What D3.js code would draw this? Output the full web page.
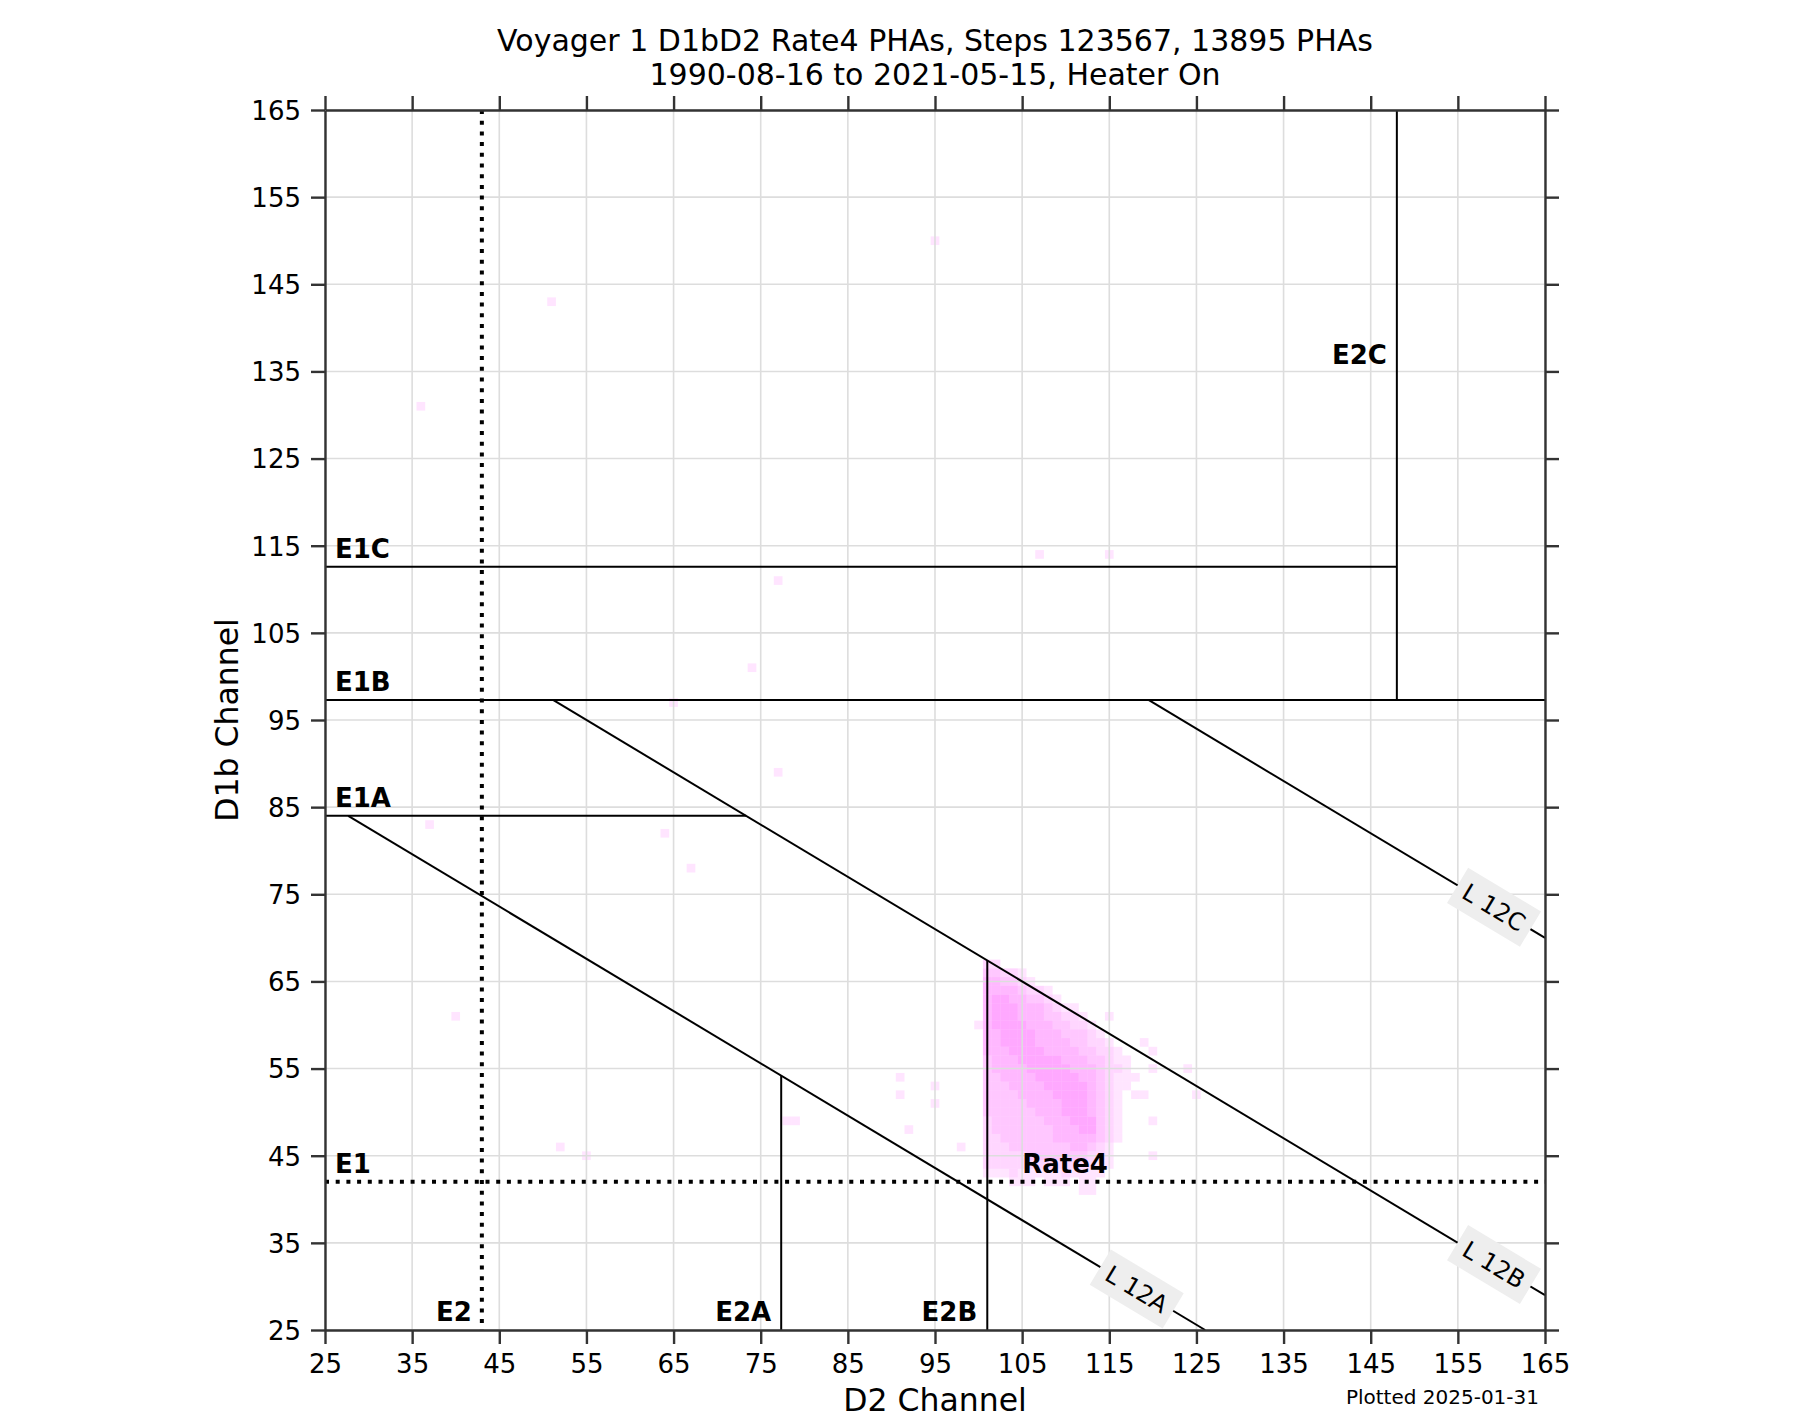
<!DOCTYPE html>
<html>
<head>
<meta charset="utf-8">
<script src="https://cdn.jsdelivr.net/npm/d3@7"></script>
<style>
  html, body { margin: 0; padding: 0; background: #ffffff; }
  svg { display: block; font-family: "DejaVu Sans", sans-serif; }
</style>
</head>
<body>
<svg id="chart" width="1820" height="1424"></svg>
<script>
// ---------------- data ----------------
const titleLines = ["Voyager 1 D1bD2 Rate4 PHAs, Steps 123567, 13895 PHAs",
                    "1990-08-16 to 2021-05-15, Heater On"];
const xLabel = "D2 Channel";
const yLabel = "D1b Channel";
const footnote = "Plotted 2025-01-31";
const axisDomain = [25, 165];
const tickValues = [25, 35, 45, 55, 65, 75, 85, 95, 105, 115, 125, 135, 145, 155, 165];

// threshold levels (channels)
const e1 = 42, e2 = 43;
const e1a = 84, e1b = 97.3, e1c = 112.6;
const e2a = 77.35, e2b = 101, e2c = 148;
// L12 lines: D1b = intercept + slope * D2
const lSlope = -0.6;
const lIntercepts = { "L 12A": 100.6, "L 12B": 128, "L 12C": 169 };
const lStartY = { "L 12A": e1a, "L 12B": e1b, "L 12C": e1b };
const lLabelX = { "L 12A": 118.15, "L 12B": 159.15, "L 12C": 159.15 };

// 2D histogram (1-channel bins), intensity class per cell
// each row: [D1b channel, first D2 channel, classes for consecutive D2 channels]
const blobRows = [
  [67, 101, "22"],
  [66, 101, "33221"],
  [65, 101, "443321"],
  [64, 101, "44443221"],
  [63, 101, "455443321"],
  [62, 101, "45554443211"],
  [61, 101, "455544433221"],
  [60, 100, "14555544433221"],
  [59, 101, "44555544433321"],
  [58, 101, "445555444433221"],
  [57, 101, "4445555444433221"],
  [56, 101, "34445555544433211"],
  [55, 101, "34444555554443221"],
  [54, 101, "334444555554432111"],
  [53, 101, "33344445555543211"],
  [52, 101, "3333444455554321"],
  [51, 101, "3333344445554321"],
  [50, 101, "3333334445554321"],
  [49, 101, "2333333444555321"],
  [48, 101, "2333333344455321"],
  [47, 101, "2233333344444321"],
  [46, 101, "222333333344321"],
  [45, 101, "222223333333221"],
  [44, 101, "222222222222211"],
  [43, 101, "11121111121111"],
  [42, 104, "1110111011"],
  [41, 112, "11"]
];
// isolated PHA cells: [D2, D1b, class]
const sparseCells = [
  [36, 131, 1], [51, 143, 1], [95, 150, 1], [77, 111, 1], [107, 114, 1], [115, 114, 1],
  [74, 101, 1], [65, 97, 1], [77, 89, 1], [37, 83, 1], [64, 82, 1], [67, 78, 1],
  [40, 61, 1], [52, 46, 1], [55, 45, 1], [78, 49, 1], [79, 49, 1],
  [91, 54, 1], [91, 52, 1], [95, 53, 1], [95, 51, 1], [92, 48, 1], [98, 46, 1],
  [119, 58, 1], [120, 57, 1], [120, 55, 1], [124, 55, 1], [125, 52, 1],
  [118, 52, 1], [119, 52, 1], [120, 49, 1], [120, 45, 1], [115, 61, 1]
];

// ---------------- drawing ----------------
const svg = d3.select("#chart");
const x = d3.scaleLinear().domain(axisDomain).range([325, 1545]);
const y = d3.scaleLinear().domain(axisDomain).range([1330, 110]);
const opacity = d3.scaleLinear().domain([1, 5]).range([0.1, 0.34]);

// cells
const cells = [];
blobRows.forEach(([r, c0, s]) => {
  s.split("").forEach((ch, i) => {
    const v = +ch;
    if (v > 0) cells.push([c0 + i, r, v]);
  });
});
sparseCells.forEach(d => cells.push(d));

svg.append("g").selectAll("rect").data(cells).join("rect")
  .attr("x", d => x(d[0] - 0.5))
  .attr("y", d => y(d[1] + 0.5))
  .attr("width", d => x(d[0] + 0.5) - x(d[0] - 0.5))
  .attr("height", d => y(d[1] - 0.5) - y(d[1] + 0.5))
  .attr("fill", "#ff00ff")
  .attr("fill-opacity", d => opacity(d[2]));

// grid
const grid = svg.append("g").attr("stroke", "#dddddd").attr("stroke-width", 1.6);
grid.selectAll("line.v").data(tickValues).join("line").attr("class", "v")
  .attr("x1", d => x(d)).attr("x2", d => x(d)).attr("y1", y(165)).attr("y2", y(25));
grid.selectAll("line.h").data(tickValues).join("line").attr("class", "h")
  .attr("y1", d => y(d)).attr("y2", d => y(d)).attr("x1", x(25)).attr("x2", x(165));

// threshold lines
const lines = svg.append("g").attr("stroke", "#000").attr("stroke-width", 2).attr("fill", "none");
const seg = (x1, y1, x2, y2) => lines.append("line")
  .attr("x1", x(x1)).attr("y1", y(y1)).attr("x2", x(x2)).attr("y2", y(y2));
seg(25, e1c, e2c, e1c);
seg(25, e1b, 165, e1b);
seg(25, e1a, (e1a - lIntercepts["L 12B"]) / lSlope, e1a);
seg(e2c, e1b, e2c, 165);
seg(e2a, 25, e2a, lIntercepts["L 12A"] + lSlope * e2a);
seg(e2b, 25, e2b, lIntercepts["L 12B"] + lSlope * e2b);

Object.keys(lIntercepts).forEach(k => {
  const b = lIntercepts[k];
  let xs = (lStartY[k] - b) / lSlope, ys = lStartY[k];
  let xe = 165, ye = b + lSlope * 165;
  if (ye < 25) { ye = 25; xe = (25 - b) / lSlope; }
  seg(xs, ys, xe, ye);
});

// dotted E1 / E2
const dots = svg.append("g").attr("stroke", "#000").attr("stroke-width", 4)
  .attr("stroke-dasharray", "4 6.7");
dots.append("line").attr("x1", x(25)).attr("x2", x(165)).attr("y1", y(e1)).attr("y2", y(e1));
dots.append("line").attr("x1", x(e2)).attr("x2", x(e2)).attr("y1", y(165)).attr("y2", y(25));

// L labels with boxes
const ang = Math.atan(-lSlope) * 180 / Math.PI;
Object.keys(lIntercepts).forEach(k => {
  const lx = lLabelX[k], ly = lIntercepts[k] + lSlope * lx;
  const g = svg.append("g").attr("transform", `translate(${x(lx)},${y(ly)}) rotate(${ang})`);
  g.append("rect").attr("x", -42.5).attr("y", -20.5).attr("width", 85).attr("height", 41)
    .attr("fill", "#eeeeee");
  g.append("text").attr("text-anchor", "middle").attr("dy", "0.36em")
    .attr("font-size", 24).attr("fill", "#000").text(k);
});

// bold region labels
const bold = svg.append("g").attr("font-weight", "bold").attr("font-size", 26).attr("fill", "#000");
[["E1C", e1c], ["E1B", e1b], ["E1A", e1a], ["E1", e1]].forEach(([t, v]) => {
  bold.append("text").attr("x", x(25) + 10).attr("y", y(v) - 8.5).text(t);
});
[["E2", e2], ["E2A", e2a], ["E2B", e2b]].forEach(([t, v]) => {
  bold.append("text").attr("x", x(v) - 10).attr("y", y(25) - 9).attr("text-anchor", "end").text(t);
});
bold.append("text").attr("x", x(e2c) - 10).attr("y", y(135.9)).attr("text-anchor", "end").text("E2C");
bold.append("text").attr("x", x(105)).attr("y", y(43)).text("Rate4");

// axes
const axColor = "#333333";
function styleAxis(g) {
  g.select(".domain").attr("stroke", axColor).attr("stroke-width", 2.4);
  g.selectAll(".tick line").attr("stroke", axColor).attr("stroke-width", 2.4);
  g.selectAll(".tick text").attr("fill", "#000").attr("font-size", 26)
    .attr("font-family", "DejaVu Sans, sans-serif");
}
svg.append("g").attr("transform", `translate(0,${y(25)})`)
  .call(d3.axisBottom(x).tickValues(tickValues).tickSize(14).tickSizeOuter(0))
  .call(styleAxis)
  .call(g => g.selectAll(".tick text").attr("y", 43).attr("dy", 0));
svg.append("g").attr("transform", `translate(0,${y(165)})`)
  .call(d3.axisTop(x).tickValues(tickValues).tickSize(14).tickSizeOuter(0).tickFormat(""))
  .call(styleAxis);
svg.append("g").attr("transform", `translate(${x(25)},0)`)
  .call(d3.axisLeft(y).tickValues(tickValues).tickSize(14).tickSizeOuter(0).tickPadding(10))
  .call(styleAxis)
  .call(g => g.selectAll(".tick text").attr("dy", "0.36em"));
svg.append("g").attr("transform", `translate(${x(165)},0)`)
  .call(d3.axisRight(y).tickValues(tickValues).tickSize(14).tickSizeOuter(0).tickFormat(""))
  .call(styleAxis);

// titles & labels
svg.append("text").attr("x", 935).attr("y", 51).attr("text-anchor", "middle")
  .attr("font-size", 30).text(titleLines[0]);
svg.append("text").attr("x", 935).attr("y", 85).attr("text-anchor", "middle")
  .attr("font-size", 30).text(titleLines[1]);
svg.append("text").attr("x", 935).attr("y", 1411).attr("text-anchor", "middle")
  .attr("font-size", 31.5).text(xLabel);
svg.append("text").attr("transform", "translate(238,720) rotate(-90)").attr("text-anchor", "middle")
  .attr("font-size", 31.5).text(yLabel);
svg.append("text").attr("x", 1539).attr("y", 1404).attr("text-anchor", "end")
  .attr("font-size", 20).text(footnote);
</script>
</body>
</html>
